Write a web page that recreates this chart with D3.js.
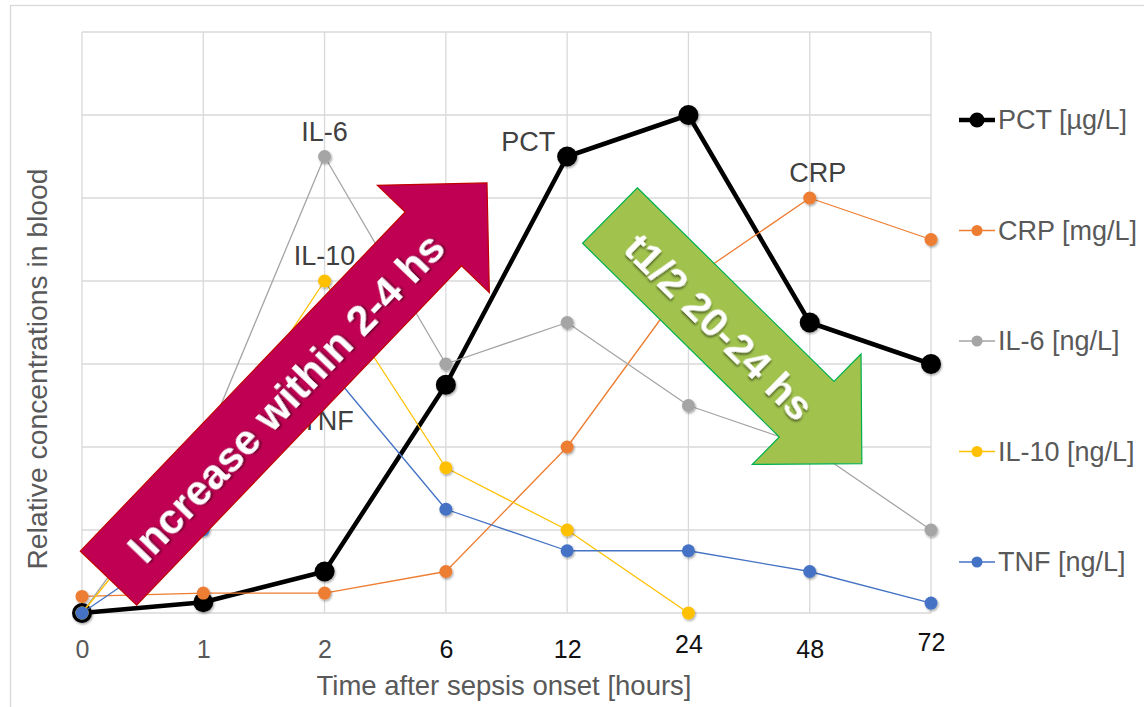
<!DOCTYPE html>
<html>
<head>
<meta charset="utf-8">
<script src="https://cdn.jsdelivr.net/npm/d3@7"></script>
<style>
  body { margin: 0; background: #fff; }
  text { font-family: "Liberation Sans", Arial, sans-serif; }
</style>
</head>
<body>
<svg id="chart" width="1144" height="707"></svg>
<script>

// time points (hours after sepsis onset), shown as evenly spaced categories
var categories = ["0", "1", "2", "6", "12", "24", "48", "72"];

// relative concentrations
var pctValues  = [0, 0.13, 0.5, 2.75, 5.5, 6, 3.5, 3];
var crpValues  = [0.2, 0.24, 0.24, 0.5, 2, 4, 5, 4.5];
var il6Values  = [0, 2, 5.5, 3, 3.5, 2.5, 2, 1];
var il10Values = [0, 1.8, 4, 1.75, 1, 0, null, null];
var tnfValues  = [0, 1, 3, 1.25, 0.75, 0.75, 0.5, 0.12];

var seriesKeys   = ["PCT", "CRP", "IL-6", "IL-10", "TNF"];
var seriesNames  = ["PCT [µg/L]", "CRP [mg/L]", "IL-6 [ng/L]", "IL-10 [ng/L]", "TNF [ng/L]"];
var seriesColors = ["#000000", "#ED7D31", "#A5A5A5", "#FFC000", "#4472C4"];
var seriesValues = [pctValues, crpValues, il6Values, il10Values, tnfValues];

var yTicks = [0, 1, 2, 3, 4, 5, 6, 7];

// data labels: series name + category it sits on
var pointLabels = [["IL-6", "2"], ["IL-10", "2"], ["TNF", "2"], ["PCT", "12"], ["CRP", "48"]];

var svg = d3.select("#chart");

var plotLeft = 82, plotRight = 931, plotTop = 32, plotBottom = 613;

var x = d3.scalePoint().domain(categories).range([plotLeft, plotRight]);
// continuous version of the category axis, used to place the arrows
var xi = d3.scaleLinear().domain([0, categories.length - 1]).range([plotLeft, plotRight]);
var y = d3.scaleLinear().domain([0, 7]).range([plotBottom, plotTop]);

var defs = svg.append("defs");
defs.append("filter").attr("id", "mshadow")
    .attr("x", "-50%").attr("y", "-50%").attr("width", "200%").attr("height", "200%")
  .append("feDropShadow")
    .attr("dx", 1).attr("dy", 1.5).attr("stdDeviation", 1.2)
    .attr("flood-color", "#000").attr("flood-opacity", 0.35);
defs.append("filter").attr("id", "tshadow")
    .attr("x", "-20%").attr("y", "-50%").attr("width", "140%").attr("height", "200%")
  .append("feDropShadow")
    .attr("dx", 1.5).attr("dy", 1.5).attr("stdDeviation", 1)
    .attr("flood-color", "#000").attr("flood-opacity", 0.55);

// outer chart frame
svg.append("rect")
    .attr("x", 10.5).attr("y", 5.5)
    .attr("width", 1160).attr("height", 720)
    .attr("fill", "none")
    .attr("stroke", "#d9d9d9")
    .attr("stroke-width", 1.3);

// gridlines
var grid = svg.append("g");
grid.selectAll(".hgrid")
    .data(yTicks)
    .join("line")
    .attr("x1", plotLeft).attr("x2", plotRight)
    .attr("y1", function(d) { return y(d); })
    .attr("y2", function(d) { return y(d); })
    .attr("stroke", "#d9d9d9").attr("stroke-width", 1.3);
grid.selectAll(".vgrid")
    .data(categories)
    .join("line")
    .attr("x1", function(d) { return x(d); })
    .attr("x2", function(d) { return x(d); })
    .attr("y1", plotTop).attr("y2", plotBottom)
    .attr("stroke", "#d9d9d9").attr("stroke-width", 1.3);

// x axis tick labels
var tickStyle = {
    "0": ["#595959", 0], "1": ["#595959", 0], "2": ["#595959", 0],
    "6": ["#111", 0], "12": ["#111", 0], "24": ["#111", -5], "48": ["#111", 0], "72": ["#111", -7]
};
var xAxis = svg.append("g")
    .attr("transform", "translate(0," + plotBottom + ")")
    .call(d3.axisBottom(x).tickSize(0).tickPadding(0));
xAxis.select(".domain").remove();
xAxis.selectAll("text")
    .attr("y", function(d) { return 36 + tickStyle[d][1]; })
    .attr("dy", "0.35em")
    .attr("font-size", 25)
    .attr("font-family", "'Liberation Sans', Arial, sans-serif")
    .attr("fill", function(d) { return tickStyle[d][0]; });

// axis titles
svg.append("text")
    .attr("x", 504).attr("y", 695)
    .attr("text-anchor", "middle")
    .attr("font-size", 27.5)
    .attr("fill", "#595959")
    .text("Time after sepsis onset [hours]");

svg.append("text")
    .attr("transform", "translate(47,369) rotate(-90)")
    .attr("text-anchor", "middle")
    .attr("font-size", 28.3)
    .attr("fill", "#595959")
    .text("Relative concentrations in blood");

// series lines and markers
var line = d3.line()
    .defined(function(d) { return d != null; })
    .x(function(d, i) { return x(categories[i]); })
    .y(function(d) { return y(d); });

var series = svg.append("g");
seriesValues.forEach(function(vals, s) {
    var thick = s === 0;
    series.append("path")
        .datum(vals)
        .attr("d", line)
        .attr("fill", "none")
        .attr("stroke", seriesColors[s])
        .attr("stroke-width", thick ? 4.5 : 1.3)
        .attr("stroke-linejoin", "round");
    var pts = vals.map(function(v, i) { return {c: categories[i], v: v}; })
        .filter(function(p) { return p.v != null; });
    series.selectAll(".m" + s)
        .data(pts)
        .join("circle")
        .attr("cx", function(d) { return x(d.c); })
        .attr("cy", function(d) { return y(d.v); })
        .attr("r", thick ? 10 : 6.5)
        .attr("fill", seriesColors[s])
        .attr("filter", "url(#mshadow)");
});

// data labels
var labelOffset = {
    "IL-6":  {dx: 0, dy: -16, anchor: "middle"},
    "IL-10": {dx: 0, dy: -16, anchor: "middle"},
    "TNF":   {dx: 3, dy: 66, anchor: "middle"},
    "PCT":   {dx: -12, dy: -6, anchor: "end"},
    "CRP":   {dx: 8, dy: -16, anchor: "middle"}
};
svg.append("g").selectAll("text")
    .data(pointLabels)
    .join("text")
    .attr("x", function(d) { return x(d[1]) + labelOffset[d[0]].dx; })
    .attr("y", function(d) {
        var vals = seriesValues[seriesKeys.indexOf(d[0])];
        return y(vals[categories.indexOf(d[1])]) + labelOffset[d[0]].dy;
    })
    .attr("text-anchor", function(d) { return labelOffset[d[0]].anchor; })
    .attr("font-size", 27)
    .attr("fill", "#404040")
    .text(function(d) { return d[0]; });

// block arrows, placed in data space (category index, value)
function arrowPoints(len, w, headW, headL) {
    return [[0, -w / 2], [len - headL, -w / 2], [len - headL, -headW / 2], [len, 0],
            [len - headL, headW / 2], [len - headL, w / 2], [0, w / 2]];
}
function drawArrow(from, to, fill, stroke, label, fontSize, along, across) {
    var bx = xi(from[0]), by = y(from[1]);
    var tx = xi(to[0]), ty = y(to[1]);
    var len = Math.hypot(tx - bx, ty - by);
    var ang = Math.atan2(ty - by, tx - bx) * 180 / Math.PI;
    var g = svg.append("g")
        .attr("transform", "translate(" + bx + "," + by + ") rotate(" + ang + ")");
    g.append("polygon")
        .attr("points", arrowPoints(len, 78, 155, 77.5).map(function(p) { return p.join(","); }).join(" "))
        .attr("fill", fill)
        .attr("stroke", stroke)
        .attr("stroke-width", 1.2);
    g.append("text")
        .attr("x", along).attr("y", across)
        .attr("dy", "0.35em")
        .attr("text-anchor", "middle")
        .attr("font-size", fontSize)
        .attr("font-weight", "bold")
        .attr("fill", "#fff")
        .attr("filter", "url(#tshadow)")
        .text(label);
}

drawArrow([0.2185, 0.42], [3.339, 5.181], "#C00052", "#C00000", "Increase within 2-4 hs", 42, 253, 3);
drawArrow([4.353, 4.789], [6.43, 1.8], "#A1C34E", "#00B050", "t1/2 20-24 hs", 41, 156, 3);

// legend
var legend = svg.append("g");
var legendY = d3.scalePoint().domain(seriesNames).range([120, 562]);
seriesNames.forEach(function(name, s) {
    var ly = legendY(name);
    var thick = s === 0;
    legend.append("line")
        .attr("x1", 959).attr("x2", 995)
        .attr("y1", ly).attr("y2", ly)
        .attr("stroke", seriesColors[s])
        .attr("stroke-width", thick ? 4.5 : 1.3);
    legend.append("circle")
        .attr("cx", 977).attr("cy", ly)
        .attr("r", thick ? 7.5 : 5.5)
        .attr("fill", seriesColors[s]);
    legend.append("text")
        .attr("x", 998).attr("y", ly)
        .attr("dy", "0.35em")
        .attr("font-size", 27)
        .attr("fill", "#595959")
        .text(name);
});

</script>
</body>
</html>
